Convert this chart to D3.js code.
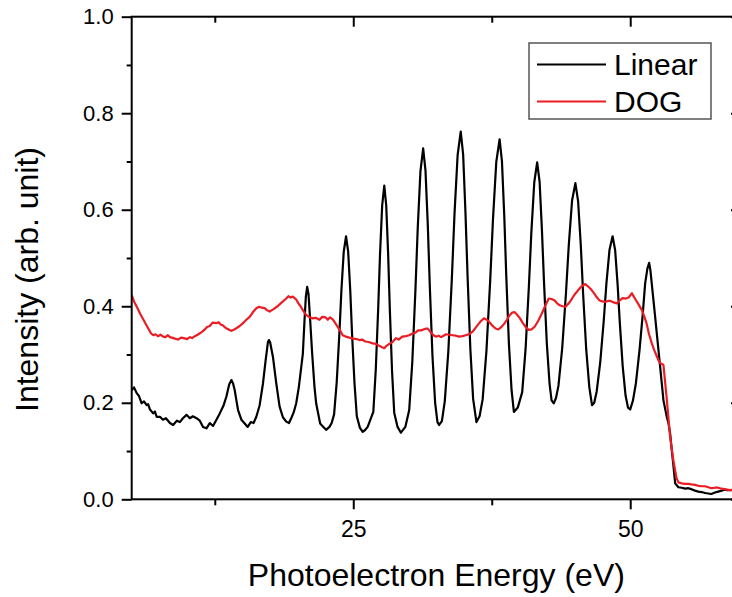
<!DOCTYPE html>
<html>
<head>
<meta charset="utf-8">
<script src="https://cdn.jsdelivr.net/npm/d3@7"></script>
<style>
  html, body { margin: 0; padding: 0; background: #fff; }
  svg { display: block; font-family: "Liberation Sans", Arial, sans-serif; }
</style>
</head>
<body>
<svg id="chart" width="732" height="597"></svg>
<script>
// Photoelectron spectra: [energy (eV), intensity (arb. unit)]
const linearSpectrum = [
  [5.00,0.226],[5.21,0.232],[5.45,0.220],[5.66,0.214],[5.90,0.199],[6.11,0.203],[6.35,0.195],[6.49,0.197],
  [6.65,0.186],[6.94,0.178],[7.10,0.182],[7.25,0.171],[7.55,0.171],[7.82,0.165],[8.09,0.168],[8.45,0.158],
  [8.74,0.154],[9.08,0.163],[9.35,0.160],[9.62,0.168],[9.95,0.175],[10.25,0.168],[10.52,0.172],[10.85,0.168],
  [11.15,0.163],[11.44,0.150],[11.75,0.147],[12.05,0.158],[12.34,0.152],[12.65,0.165],[12.95,0.178],
  [13.30,0.195],[13.55,0.213],[13.80,0.238],[14.00,0.247],[14.15,0.240],[14.30,0.226],[14.45,0.205],[14.60,0.185],
  [14.90,0.165],[15.20,0.157],[15.47,0.150],[15.75,0.160],[16.00,0.158],
  [16.25,0.171],[16.55,0.195],[16.85,0.240],[17.10,0.290],[17.30,0.326],[17.39,0.330],[17.50,0.325],[17.75,0.295],
  [18.05,0.240],[18.35,0.192],[18.65,0.170],[18.95,0.161],[19.20,0.158],
  [19.40,0.168],[19.62,0.180],[19.85,0.199],[20.09,0.233],[20.45,0.302],[20.60,0.371],[20.72,0.420],[20.84,0.440],
  [20.96,0.425],[21.11,0.371],[21.29,0.302],[21.50,0.233],[21.65,0.199],[22.01,0.157],[22.30,0.150],[22.55,0.144],
  [22.85,0.150],[23.05,0.158],[23.27,0.176],[23.51,0.244],[23.75,0.345],[23.93,0.433],[24.14,0.513],[24.35,0.545],
  [24.54,0.513],[24.73,0.432],[24.89,0.343],[25.11,0.241],[25.32,0.172],[25.60,0.148],[25.85,0.140],[26.05,0.143],
  [26.30,0.150],[26.81,0.181],[27.03,0.268],[27.25,0.395],[27.415,0.507],[27.61,0.609],[27.80,0.650],[27.975,0.609],
  [28.15,0.507],[28.30,0.394],[28.50,0.266],[28.70,0.179],[29.00,0.150],[29.30,0.138],
  [29.70,0.150],[30.05,0.185],[30.33,0.285],[30.61,0.433],[30.82,0.562],[31.065,0.680],[31.31,0.727],[31.52,0.681],
  [31.73,0.567],[31.91,0.441],[32.15,0.297],[32.39,0.200],[32.60,0.160],[32.75,0.154],
  [33.00,0.162],[33.26,0.203],[33.58,0.306],[33.90,0.458],[34.14,0.592],[34.42,0.713],[34.70,0.762],[34.92,0.714],
  [35.13,0.593],[35.32,0.461],[35.57,0.311],[35.82,0.208],[36.12,0.160],
  [36.40,0.172],[36.68,0.207],[37.02,0.307],[37.36,0.453],[37.615,0.582],[37.91,0.699],[38.21,0.746],[38.42,0.701],
  [38.63,0.588],[38.81,0.464],[39.05,0.322],[39.29,0.226],[39.50,0.181],
  [39.85,0.190],[40.25,0.222],[40.55,0.310],[40.85,0.440],[41.075,0.553],[41.34,0.657],[41.60,0.698],[41.82,0.658],
  [42.03,0.558],[42.22,0.449],[42.47,0.324],[42.72,0.239],[42.90,0.205],[43.10,0.199],
  [43.30,0.210],[43.52,0.235],[43.86,0.313],[44.20,0.427],[44.455,0.527],[44.75,0.619],[45.05,0.655],[45.295,0.618],
  [45.54,0.526],[45.75,0.425],[46.03,0.310],[46.31,0.232],[46.55,0.195],
  [46.75,0.200],[46.97,0.223],[47.29,0.283],[47.61,0.370],[47.85,0.447],[48.13,0.517],[48.41,0.545],[48.64,0.516],
  [48.865,0.444],[49.06,0.366],[49.32,0.276],[49.58,0.215],[49.80,0.190],[50.00,0.186],
  [50.25,0.205],[50.51,0.240],[50.84,0.309],[51.11,0.378],[51.35,0.448],[51.55,0.478],[51.71,0.490],[51.82,0.475],
  [51.94,0.448],[52.25,0.378],[52.55,0.309],[52.85,0.240],[53.00,0.205],[53.30,0.171],[53.45,0.158],[53.60,0.137],
  [53.76,0.100],[53.90,0.070],[54.06,0.033],[54.35,0.025],[54.65,0.024],[54.96,0.022],[55.25,0.023],[55.52,0.021],
  [55.85,0.018],[56.15,0.016],[56.45,0.015],[56.76,0.013],[57.05,0.012],[57.32,0.011],[57.65,0.014],[57.95,0.016],
  [58.25,0.018],[58.49,0.020],[58.75,0.019],[59.03,0.019],[59.50,0.020]
];

const dogSpectrum = [
  [5.00,0.423],[5.21,0.410],[5.48,0.398],[5.75,0.385],[6.11,0.370],[6.47,0.355],[6.74,0.344],[6.94,0.340],
  [7.15,0.342],[7.37,0.338],[7.60,0.341],[7.84,0.337],[8.05,0.336],[8.27,0.340],[8.45,0.336],[8.63,0.335],
  [8.90,0.333],[9.19,0.331],[9.45,0.335],[9.71,0.334],[10.00,0.332],[10.25,0.336],[10.45,0.334],[10.70,0.338],
  [10.95,0.341],[11.15,0.344],[11.40,0.348],[11.60,0.352],[11.80,0.357],[12.05,0.359],[12.30,0.366],[12.65,0.365],
  [12.85,0.367],[13.04,0.362],[13.25,0.360],[13.49,0.355],[13.75,0.352],[14.00,0.349],[14.25,0.352],[14.48,0.355],
  [14.75,0.359],[15.04,0.365],[15.30,0.371],[15.65,0.378],[15.95,0.388],[16.25,0.396],[16.50,0.399],[16.73,0.397],
  [17.00,0.396],[17.20,0.392],[17.45,0.389],[17.80,0.394],[18.17,0.400],[18.55,0.408],[18.95,0.416],[19.15,0.421],
  [19.34,0.418],[19.55,0.420],[19.85,0.414],[20.05,0.406],[20.24,0.400],[20.50,0.390],[20.75,0.382],[21.00,0.378],
  [21.32,0.375],[21.60,0.376],[21.95,0.372],[22.20,0.378],[22.49,0.377],[22.70,0.372],[22.90,0.377],[23.15,0.373],
  [23.35,0.366],[23.57,0.358],[23.80,0.350],[24.05,0.340],[24.35,0.337],[24.65,0.335],[25.00,0.333],[25.30,0.332],
  [25.55,0.330],[25.80,0.331],[26.09,0.327],[26.40,0.326],[26.75,0.323],[27.05,0.322],[27.35,0.318],[27.60,0.315],
  [27.80,0.313],[28.00,0.318],[28.25,0.322],[28.55,0.326],[28.85,0.334],[29.10,0.331],[29.42,0.337],[29.75,0.338],
  [30.05,0.340],[30.30,0.343],[30.59,0.345],[30.85,0.350],[31.13,0.350],[31.45,0.353],[31.70,0.354],[31.85,0.350],
  [32.03,0.345],[32.25,0.340],[32.45,0.337],[32.70,0.339],[32.93,0.336],[33.15,0.339],[33.38,0.342],[33.65,0.341],
  [33.95,0.340],[34.25,0.339],[34.55,0.337],[34.85,0.338],[35.15,0.340],[35.45,0.342],[35.75,0.347],[36.00,0.354],
  [36.26,0.362],[36.55,0.370],[36.80,0.375],[37.05,0.372],[37.25,0.368],[37.55,0.360],[37.85,0.354],[38.10,0.352],
  [38.33,0.356],[38.60,0.363],[38.87,0.372],[39.10,0.381],[39.35,0.387],[39.55,0.388],[39.77,0.383],[40.05,0.375],
  [40.31,0.365],[40.60,0.356],[40.85,0.351],[41.10,0.352],[41.39,0.358],[41.70,0.370],[42.02,0.385],[42.35,0.402],
  [42.65,0.416],[42.90,0.415],[43.19,0.412],[43.40,0.406],[43.64,0.402],[43.90,0.400],[44.15,0.399],[44.45,0.406],
  [44.72,0.415],[45.00,0.425],[45.26,0.432],[45.55,0.440],[45.80,0.444],[45.95,0.446],[46.25,0.440],[46.50,0.434],
  [46.79,0.425],[47.00,0.418],[47.24,0.412],[47.50,0.410],[47.75,0.409],[48.00,0.411],[48.23,0.411],[48.50,0.408],
  [48.80,0.406],[49.05,0.412],[49.31,0.417],[49.60,0.416],[49.85,0.418],[50.15,0.427],[50.30,0.421],[50.48,0.414],
  [50.75,0.404],[51.05,0.392],[51.25,0.380],[51.47,0.365],[51.70,0.342],[51.95,0.323],[52.15,0.310],[52.37,0.298],
  [52.55,0.288],[52.70,0.282],[52.90,0.280],[53.00,0.278],[53.27,0.215],[53.60,0.130],[53.90,0.080],[54.17,0.045],
  [54.35,0.035],[54.65,0.033],[54.96,0.032],[55.25,0.032],[55.52,0.031],[55.85,0.030],[56.15,0.028],[56.45,0.027],
  [56.76,0.027],[57.05,0.025],[57.32,0.023],[57.65,0.024],[57.95,0.024],[58.25,0.022],[58.49,0.021],[58.75,0.020],
  [59.03,0.019],[59.50,0.019]
];

const xDomain = [5, 60];
const yDomain = [0, 1];
const xMajorTicks = [25, 50];
const xMinorTicks = [12.5, 37.5];
const yMajorTicks = [0, 0.2, 0.4, 0.6, 0.8, 1.0];
const yMinorTicks = [0.1, 0.3, 0.5, 0.7, 0.9];
const seriesNames = ["Linear", "DOG"];
const seriesColors = ["#000000", "#ec1c24"];
const xTitle = "Photoelectron Energy (eV)";
const yTitle = "Intensity (arb. unit)";

const svg = d3.select("#chart");
const plot = { left: 131.7, right: 741, top: 16.7, bottom: 499.3 };

const x = d3.scaleLinear().domain(xDomain).range([plot.left, plot.right]);
const y = d3.scaleLinear().domain(yDomain).range([plot.bottom, plot.top]);

svg.append("defs").append("clipPath").attr("id", "plotClip")
  .append("rect")
  .attr("x", plot.left).attr("y", plot.top)
  .attr("width", plot.right - plot.left).attr("height", plot.bottom - plot.top);

// Spectra
const line = d3.line().x(d => x(d[0])).y(d => y(d[1]));
const curves = svg.append("g").attr("clip-path", "url(#plotClip)");
[linearSpectrum, dogSpectrum].forEach((data, i) => {
  curves.append("path")
    .datum(data)
    .attr("fill", "none")
    .attr("stroke", seriesColors[i])
    .attr("stroke-width", 2.2)
    .attr("stroke-linejoin", "round")
    .attr("d", line);
});

function styleAxis(g) {
  g.select(".domain").remove();
  g.selectAll(".tick line").attr("stroke", "#000").attr("stroke-width", 2);
  g.selectAll(".tick text").attr("fill", "#000");
}

// Bottom axis: labelled majors + minors (outward)
svg.append("g").attr("transform", `translate(0,${plot.bottom})`)
  .call(d3.axisBottom(x).tickValues(xMajorTicks).tickSize(10).tickPadding(11)
    .tickFormat(d3.format("d")))
  .call(styleAxis)
  .call(g => g.selectAll(".tick text").attr("font-size", 23));
svg.append("g").attr("transform", `translate(0,${plot.bottom})`)
  .call(d3.axisBottom(x).tickValues(xMinorTicks).tickSize(6).tickFormat(""))
  .call(styleAxis);

// Top axis: ticks pointing into the plot
svg.append("g").attr("transform", `translate(0,${plot.top})`)
  .call(d3.axisBottom(x).tickValues(xMajorTicks).tickSize(10).tickFormat(""))
  .call(styleAxis);
svg.append("g").attr("transform", `translate(0,${plot.top})`)
  .call(d3.axisBottom(x).tickValues(xMinorTicks).tickSize(6).tickFormat(""))
  .call(styleAxis);

// Left axis
svg.append("g").attr("transform", `translate(${plot.left},0)`)
  .call(d3.axisLeft(y).tickValues(yMajorTicks).tickSize(10).tickPadding(8)
    .tickFormat(d3.format(".1f")))
  .call(styleAxis)
  .call(g => g.selectAll(".tick text").attr("font-size", 22));
svg.append("g").attr("transform", `translate(${plot.left},0)`)
  .call(d3.axisLeft(y).tickValues(yMinorTicks).tickSize(5).tickFormat(""))
  .call(styleAxis);

// Right axis: ticks pointing into the plot
svg.append("g").attr("transform", `translate(${plot.right},0)`)
  .call(d3.axisLeft(y).tickValues(yMajorTicks).tickSize(10).tickFormat(""))
  .call(styleAxis);
svg.append("g").attr("transform", `translate(${plot.right},0)`)
  .call(d3.axisLeft(y).tickValues(yMinorTicks).tickSize(5).tickFormat(""))
  .call(styleAxis);

// Frame
svg.append("rect")
  .attr("x", plot.left).attr("y", plot.top)
  .attr("width", plot.right - plot.left).attr("height", plot.bottom - plot.top)
  .attr("fill", "none").attr("stroke", "#000").attr("stroke-width", 2);

// Axis titles
svg.append("text")
  .attr("x", (plot.left + plot.right) / 2).attr("y", 586)
  .attr("text-anchor", "middle").attr("font-size", 32).attr("fill", "#000")
  .text(xTitle);
svg.append("text")
  .attr("transform", "translate(38,279.5) rotate(-90)")
  .attr("text-anchor", "middle").attr("font-size", 32).attr("fill", "#000")
  .text(yTitle);

// Legend
const legend = svg.append("g");
legend.append("rect")
  .attr("x", 529).attr("y", 43).attr("width", 182).attr("height", 76)
  .attr("fill", "#fff").attr("stroke", "#555").attr("stroke-width", 1.5);
seriesNames.forEach((name, i) => {
  const ly = 64.5 + i * 37;
  legend.append("line")
    .attr("x1", 537).attr("x2", 606).attr("y1", ly).attr("y2", ly)
    .attr("stroke", seriesColors[i]).attr("stroke-width", 2);
  legend.append("text")
    .attr("x", 614).attr("y", ly + 10)
    .attr("font-size", 30).attr("fill", "#000")
    .text(name);
});
</script>
</body>
</html>
